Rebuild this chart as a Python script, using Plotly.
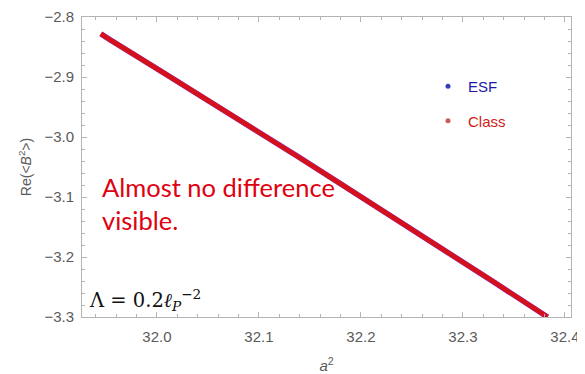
import plotly.graph_objects as go

# data
a2 = [31.945, 31.9546, 32.0046, 32.0814, 32.1376, 32.1794, 32.2219, 32.2775, 32.3297, 32.383]
esf = [-2.828, -2.8386, -2.891, -2.9712, -3.032, -3.0773, -3.1232, -3.184, -3.241, -3.300]
cls = [-2.828, -2.8386, -2.891, -2.9712, -3.032, -3.0773, -3.1232, -3.184, -3.241, -3.300]

x_ticks = [32.0, 32.1, 32.2, 32.3, 32.4]
y_ticks = [-2.8, -2.9, -3.0, -3.1, -3.2, -3.3]

fig = go.Figure()
fig.add_trace(go.Scatter(x=a2, y=esf, mode="lines", line=dict(color="#8a3ad8", width=5.6),
                         showlegend=False, hoverinfo="skip"))
fig.add_trace(go.Scatter(x=a2, y=cls, mode="lines", line=dict(color="#d4101a", width=4.8),
                         showlegend=False, hoverinfo="skip"))
# legend entries
fig.add_trace(go.Scatter(x=[None], y=[None], mode="markers",
                         marker=dict(color="#3b3bc0", size=5),
                         name="<span style='color:#1a1aa8'>ESF</span>", legendgroup="a"))
fig.add_trace(go.Scatter(x=[None], y=[None], mode="markers",
                         marker=dict(color="#d05a5a", size=5),
                         name="<span style='color:#d41a1a'>Class</span>", legendgroup="b"))

tick_font = dict(family="Liberation Sans, Arial, sans-serif", size=15, color="#5a5a5a")
axis_common = dict(
    showline=True, linecolor="#b4b4b4", linewidth=1, mirror="allticks",
    ticks="inside", ticklen=5, tickcolor="#b4b4b4", tickwidth=1,
    showgrid=False, zeroline=False, automargin=False,
    tickfont=tick_font,
    minor=dict(ticks="inside", ticklen=3, tickcolor="#b4b4b4", tickwidth=1, showgrid=False),
)

fig.update_xaxes(range=[31.9265, 32.406], tickvals=x_ticks, ticktext=[f"{v:.1f}" for v in x_ticks],
                 minor_dtick=0.02, minor_tick0=32.0, ticklabelstandoff=6,
                 title=dict(text="<i>a</i><sup>2</sup>", standoff=16,
                            font=dict(family="Liberation Sans, Arial, sans-serif", size=15, color="#5a5a5a")),
                 **axis_common)
fig.update_yaxes(range=[-3.3, -2.8], tickvals=y_ticks, ticktext=["\u2212" + f"{abs(v):.1f}" for v in y_ticks],
                 minor_dtick=0.02, minor_tick0=-3.0, ticklabelstandoff=4,
                 title=dict(text="Re(&lt;<i>B</i><sup>2</sup>&gt;)", standoff=9,
                            font=dict(family="Liberation Sans, Arial, sans-serif", size=14, color="#5a5a5a")),
                 **axis_common)

fig.add_annotation(xref="paper", yref="paper", x=(100 - 82) / 489, y=(317 - 170) / 300,
                   xanchor="left", yanchor="top", align="left", showarrow=False,
                   text="Almost no difference<br>visible.",
                   font=dict(family="Lato, Open Sans, sans-serif", size=25.5, color="#e00010"))
fig.add_annotation(xref="paper", yref="paper", x=(87 - 82) / 489, y=(317 - 300) / 300,
                   xanchor="left", yanchor="middle", showarrow=False,
                   text="\u039b = 0.2<i>\u2113</i><sub><i>P</i></sub><sup>\u22122</sup>",
                   font=dict(family="DejaVu Serif, Liberation Serif, serif", size=19.5, color="#111111"))

# the page body adds an 8px offset; the figure is sized to fill the rest of the window
fig.update_layout(
    width=577, height=366,
    margin=dict(l=74, r=14, t=9, b=57),
    paper_bgcolor="white", plot_bgcolor="white",
    legend=dict(x=(428 - 82) / 489, y=(317 - 70) / 300, xanchor="left", yanchor="top",
                bgcolor="rgba(0,0,0,0)", tracegroupgap=12, itemwidth=30,
                font=dict(family="Liberation Sans, Arial, sans-serif", size=15)),
)

fig.write_html("out.html")
